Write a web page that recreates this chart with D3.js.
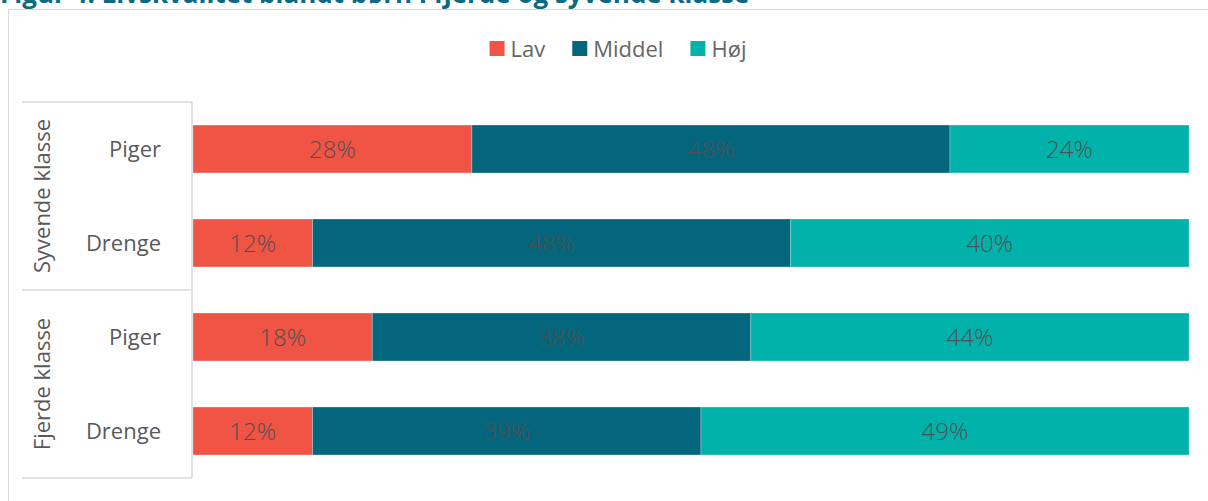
<!DOCTYPE html>
<html>
<head>
<meta charset="utf-8">
<script src="https://cdn.jsdelivr.net/npm/d3@7"></script>
<style>
  body { margin: 0; background: #fff; }
  text { font-family: "Open Sans", "Noto Sans", sans-serif; }
</style>
</head>
<body>
<script>
var title = "Figur 4: Livskvalitet blandt børn i fjerde og syvende klasse";
var groups = ["Syvende klasse", "Fjerde klasse"];
var rowGroup = ["Syvende klasse", "Syvende klasse", "Fjerde klasse", "Fjerde klasse"];
var rowLabel = ["Piger", "Drenge", "Piger", "Drenge"];
var series = ["Lav", "Middel", "Høj"];
var lav = [28, 12, 18, 12];
var middel = [48, 48, 38, 39];
var hoj = [24, 40, 44, 49];

var width = 1208,
    height = 501;

var colors = d3.scaleOrdinal()
    .domain(series)
    .range(["#f05444", "#03667d", "#01b2aa"]);

var rows = rowLabel.map(function(d, i) {
  return { id: i, label: d, group: rowGroup[i], "Lav": lav[i], "Middel": middel[i], "Høj": hoj[i] };
});

var stacked = d3.stack().keys(series)(rows);

var svg = d3.select("body").append("svg")
    .attr("width", width)
    .attr("height", height);

// title, cut off at the top
svg.append("text")
    .attr("x", 0)
    .attr("y", 3)
    .attr("font-size", 26)
    .attr("font-weight", "bold")
    .attr("fill", "#0a6a82")
    .text(title);

// chart frame
svg.append("rect")
    .attr("x", 8.5)
    .attr("y", 9.5)
    .attr("width", width)
    .attr("height", height)
    .attr("fill", "none")
    .attr("stroke", "#d9d9d9");

var x = d3.scaleLinear()
    .domain([0, 100])
    .range([193, 1189]);

var y = d3.scaleBand()
    .domain(rows.map(function(d) { return d.id; }))
    .range([102, 478])
    .paddingInner(0.49)
    .paddingOuter(0.245);

// bars
var layer = svg.append("g").selectAll("g")
    .data(stacked)
  .enter().append("g")
    .attr("fill", function(d) { return colors(d.key); });

layer.selectAll("rect")
    .data(function(d) { return d; })
  .enter().append("rect")
    .attr("x", function(d) { return x(d[0]); })
    .attr("y", function(d) { return y(d.data.id); })
    .attr("width", function(d) { return x(d[1]) - x(d[0]); })
    .attr("height", y.bandwidth())
    .attr("stroke", "#ffffff")
    .attr("stroke-opacity", 0.25)
    .attr("stroke-width", 1);

layer.selectAll("text")
    .data(function(d) { return d; })
  .enter().append("text")
    .attr("x", function(d) { return (x(d[0]) + x(d[1])) / 2; })
    .attr("y", function(d) { return y(d.data.id) + y.bandwidth() / 2; })
    .attr("dy", "0.36em")
    .attr("text-anchor", "middle")
    .attr("font-size", 24)
    .attr("font-weight", 300)
    .attr("fill", "#505050")
    .text(function(d) { return (d[1] - d[0]) + "%"; });

// category labels
svg.append("g").selectAll("text")
    .data(rows)
  .enter().append("text")
    .attr("x", 161)
    .attr("y", function(d) { return y(d.id) + y.bandwidth() / 2; })
    .attr("dy", "0.36em")
    .attr("text-anchor", "end")
    .attr("font-size", 22)
    .attr("fill", "#595959")
    .text(function(d) { return d.label; });

// group boxes
var step = y.step();
var groupTop = function(g) { return 102 + rowGroup.indexOf(g) * step; };
var lines = svg.append("g")
    .attr("stroke", "#d9d9d9")
    .attr("stroke-width", 1.5);

groups.forEach(function(g) {
  lines.append("line")
      .attr("x1", 22).attr("x2", 192)
      .attr("y1", groupTop(g)).attr("y2", groupTop(g));
});
lines.append("line")
    .attr("x1", 22).attr("x2", 192)
    .attr("y1", 478).attr("y2", 478);
lines.append("line")
    .attr("x1", 192).attr("x2", 192)
    .attr("y1", 102).attr("y2", 478);

svg.append("g").selectAll("text")
    .data(groups)
  .enter().append("text")
    .attr("transform", function(g) {
      var n = rowGroup.filter(function(r) { return r === g; }).length;
      return "translate(42," + (groupTop(g) + n * step / 2) + ") rotate(-90)";
    })
    .attr("dy", "0.36em")
    .attr("text-anchor", "middle")
    .attr("font-size", 22)
    .attr("fill", "#595959")
    .text(function(g) { return g; });

// legend
var legend = svg.append("g");
var lx = 0;
series.forEach(function(s) {
  var item = legend.append("g").attr("transform", "translate(" + lx + ",0)");
  item.append("rect")
      .attr("x", 0).attr("y", 41)
      .attr("width", 15).attr("height", 15)
      .attr("fill", colors(s));
  var t = item.append("text")
      .attr("x", 21).attr("y", 57)
      .attr("font-size", 22)
      .attr("fill", "#666666")
      .text(s);
  lx += 21 + t.node().getComputedTextLength() + 27;
});
var lw = lx - 27;
legend.attr("transform", "translate(" + (618 - lw / 2) + ",0)");
</script>
</body>
</html>
